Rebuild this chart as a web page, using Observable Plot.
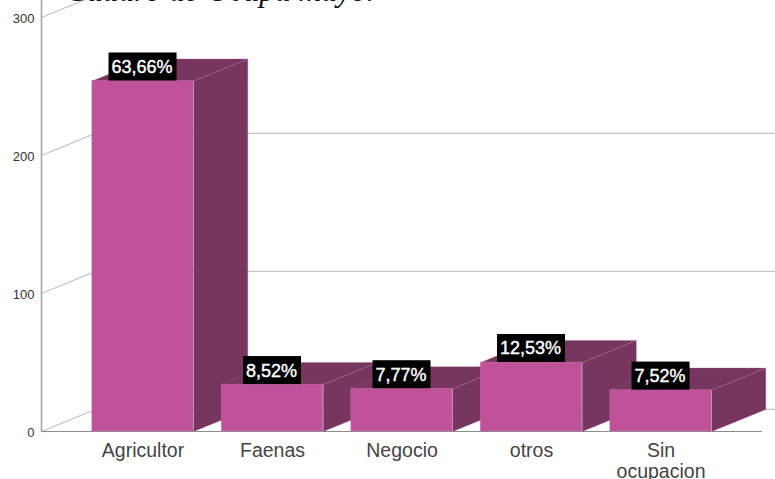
<!DOCTYPE html>
<html>
<head>
<meta charset="utf-8">
<script src="https://cdn.jsdelivr.net/npm/d3@7"></script>
<script src="https://cdn.jsdelivr.net/npm/@observablehq/plot@0.6"></script>
<style>html,body{margin:0;padding:0;background:#fff;overflow:hidden}</style>
</head>
<body>
<div id="chart"></div>
<script>
const categories = ["Agricultor", "Faenas", "Negocio", "otros", "Sin\nocupacion"];
const counts = [254, 34, 31, 50, 30];
const percentLabels = ["63,66%", "8,52%", "7,77%", "12,53%", "7,52%"];
const yTicks = [0, 100, 200, 300];
const titleText = "Cuadro de Ocupa mayor";

// Scale geometry: one x unit = one category step, one y unit = one person
const BW = 0.392, DX = 0.417, DY = 16;      // half bar width, 3D depth
const LEFT = -0.784, RIGHT = 4.884, FLOOR_END = 4.784;
const FRONT = "#c0529a", SIDE = "#77365f", GRID = "#c4c4c4";

const bars = categories.map((c, i) => ({c, i, v: counts[i], label: percentLabels[i]}));
const face = (fn) => bars.flatMap(b => fn(b).map(([x, y]) => ({x, y, k: b.c})));

const sideFaces = face(b => [[b.i+BW,0],[b.i+BW+DX,DY],[b.i+BW+DX,b.v+DY],[b.i+BW,b.v]]);
const topFaces  = face(b => [[b.i-BW,b.v],[b.i+BW,b.v],[b.i+BW+DX,b.v+DY],[b.i-BW+DX,b.v+DY]]);
const gridLines = yTicks.flatMap(t => [
  {x: LEFT, y: t, k: t}, {x: LEFT + DX, y: t + DY, k: t}, {x: RIGHT, y: t + DY, k: t}
]);
const boxHalf = (b) => (b.label.length * 10 + 8) / 2 / 129.5;

const plot = Plot.plot({
  width: 775, height: 479,
  marginLeft: 41, marginRight: 0, marginTop: 17, marginBottom: 48,
  x: {domain: [LEFT, RIGHT]},
  y: {domain: [0, 300]},
  style: {fontFamily: "'Liberation Sans', Arial, sans-serif", background: "#fff", overflow: "hidden"},
  marks: [
    Plot.line(gridLines, {x: "x", y: "y", z: "k", stroke: GRID, strokeWidth: 1.2, curve: "linear"}),
    Plot.ruleX([LEFT], {y1: 0, y2: 320, stroke: "#a6a6a6", strokeWidth: 1.6}),
    Plot.ruleY([0], {x1: LEFT, x2: FLOOR_END, stroke: "#8c8c8c", strokeWidth: 1.2}),
    Plot.line(sideFaces, {x: "x", y: "y", z: "k", fill: SIDE, stroke: "#a56a92", strokeOpacity: 0.55, strokeWidth: 0.6, curve: "linear-closed"}),
    Plot.line(topFaces, {x: "x", y: "y", z: "k", fill: SIDE, stroke: "#a56a92", strokeOpacity: 0.55, strokeWidth: 0.6, curve: "linear-closed"}),
    Plot.rect(bars, {x1: b => b.i - BW, x2: b => b.i + BW, y1: 0, y2: "v", fill: FRONT, stroke: "#cf80b3", strokeOpacity: 0.5, strokeWidth: 0.6}),
    Plot.axisY({ticks: yTicks, tickSize: 0, tickPadding: 7, dy: 1, fontSize: 13, fill: "#333", label: null, tickFormat: d => String(d)}),
    Plot.axisX({ticks: [0, 1, 2, 3, 4], tickSize: 0, tickPadding: 10.5, fontSize: 19.5, fill: "#444", label: null,
      tickFormat: i => categories[i], lineHeight: 1.08}),
    Plot.rect(bars, {
      x1: b => b.i - boxHalf(b), x2: b => b.i + boxHalf(b),
      y1: "v", y2: b => b.v + 20.3, fill: "#000"
    }),
    Plot.text(bars, {
      x: "i", y: b => b.v + 10, dx: -1, text: "label", fill: "#fff", fontSize: 18, fontWeight: 500,
      stroke: "#fff", strokeWidth: 0.4
    }),
    Plot.text([titleText], {
      x: [LEFT + 0.19], y: [319.5], text: d => d, textAnchor: "start",
      fontFamily: "'Liberation Serif', 'Times New Roman', serif", fontStyle: "italic",
      fontSize: 31.5, fill: "#111"
    })
  ]
});
document.getElementById("chart").appendChild(plot);
</script>
</body>
</html>
